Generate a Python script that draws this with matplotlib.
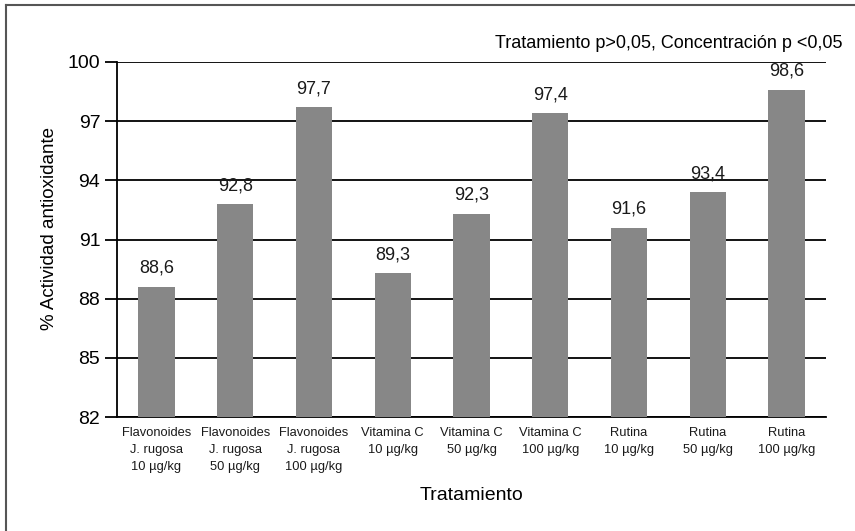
import matplotlib
matplotlib.use("Agg")
import matplotlib.pyplot as plt
from matplotlib.lines import Line2D

plt.rcParams['font.family'] = ['Liberation Sans', 'DejaVu Sans']

categories = [
    "Flavonoides\nJ. rugosa\n10 µg/kg",
    "Flavonoides\nJ. rugosa\n50 µg/kg",
    "Flavonoides\nJ. rugosa\n100 µg/kg",
    "Vitamina C\n10 µg/kg",
    "Vitamina C\n50 µg/kg",
    "Vitamina C\n100 µg/kg",
    "Rutina\n10 µg/kg",
    "Rutina\n50 µg/kg",
    "Rutina\n100 µg/kg",
]
values = [88.6, 92.8, 97.7, 89.3, 92.3, 97.4, 91.6, 93.4, 98.6]
yticks = [82, 85, 88, 91, 94, 97, 100]

fig = plt.figure(figsize=(8.55, 5.31), dpi=100)
ax = fig.add_axes([117/855, 1 - 417/531, (826 - 117)/855, (417 - 62)/531])

x = list(range(len(values)))
bottom = yticks[0]
ax.bar(x, [v - bottom for v in values], bottom=bottom, width=0.46,
       color="#878787", zorder=3)
for xi, v in zip(x, values):
    ax.text(xi, v + 0.5, f"{v:.1f}".replace(".", ","), ha="center", va="bottom",
            fontsize=13, color="#1a1a1a", zorder=4)

ax.set_xlim(-0.5, len(values) - 0.5)
ax.set_ylim(82, 100)
ax.set_yticks(yticks)
ax.set_yticklabels([str(t) for t in yticks], fontsize=14)
ax.set_xticks(x)
ax.set_xticklabels(categories, fontsize=9.3, linespacing=1.55, color="#1a1a1a")
ax.tick_params(axis="x", length=0, pad=7)
ax.tick_params(axis="y", length=9, width=1.3, direction="out", pad=3)
ax.yaxis.grid(True, color="black", linewidth=1.3, zorder=0)
ax.set_axisbelow(True)
for side in ("top", "right"):
    ax.spines[side].set_visible(False)
for side in ("left", "bottom"):
    ax.spines[side].set_linewidth(1.3)

fig.text(50/855, 1 - 228/531, "% Actividad antioxidante", rotation=90,
         ha="center", va="center", fontsize=13.5)
fig.text(0.5 * (117 + 826) / 855, 1 - 495/531, "Tratamiento", ha="center",
         va="center", fontsize=14)
fig.text(842/855, 1 - 43/531, "Tratamiento p>0,05, Concentración p <0,05",
         ha="right", va="center", fontsize=13)

# frame lines on the left and top of the figure
fig.add_artist(Line2D([6/855, 6/855], [0, 1 - 5/531], transform=fig.transFigure,
                      color="#555555", linewidth=1.5))
fig.add_artist(Line2D([6/855, 1], [1 - 5/531, 1 - 5/531], transform=fig.transFigure,
                      color="#555555", linewidth=1.5))

fig.savefig("out.png", dpi=100)
